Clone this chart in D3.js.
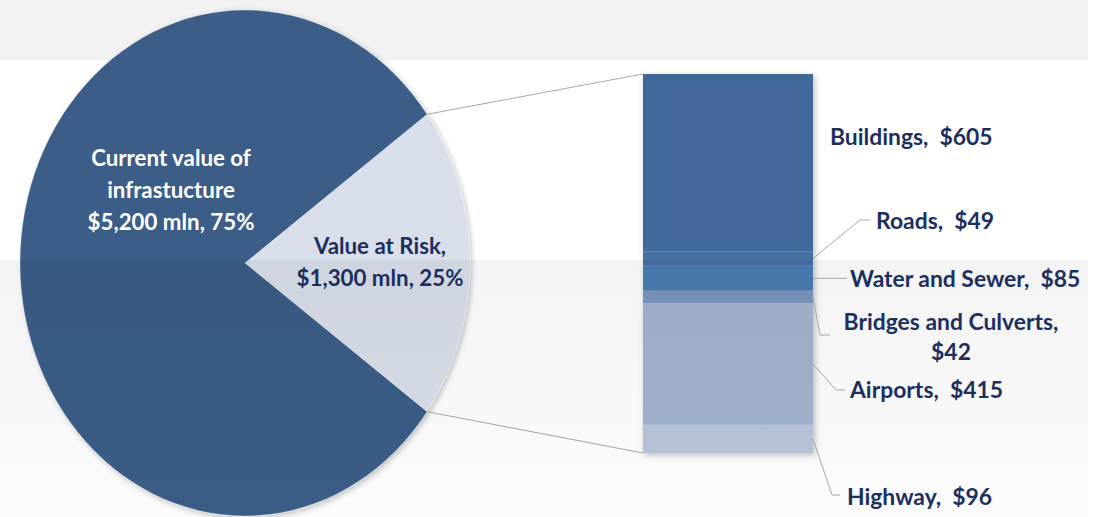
<!DOCTYPE html>
<html lang="en">

<head>
    <title>Value at Risk</title>
    <meta charset="utf-8" />
    <script src="https://d3js.org/d3.v7.min.js"></script>
    <style>
        body,
        html {
            margin: 0;
            padding: 0;
            width: 100%;
            height: 100%;
            overflow: hidden;
            background: #fff;
        }

        .lbl {
            font-family: Lato, "Open Sans", sans-serif;
            font-weight: bold;
        }
    </style>
</head>

<body>
    <div id="chart"></div>
    <script>
        // pie data
        const pieNames = ["Value at Risk", "Current value of infrastucture"];
        const pieValues = [1300, 5200];
        const pieLabelLines = [
            ["Value at Risk,", "$1,300 mln, 25%"],
            ["Current value of", "infrastucture", "$5,200 mln, 75%"]
        ];

        // breakdown of value at risk
        const riskCategories = ["Buildings", "Roads", "Water and Sewer", "Bridges and Culverts", "Airports", "Highway"];
        const riskValues = [605, 49, 85, 42, 415, 96];

        const W = 1099, H = 517;

        const svg = d3.select("#chart").append("svg")
            .attr("width", W)
            .attr("height", H);

        const defs = svg.append("defs");
        const shadow = defs.append("filter").attr("id", "shadow")
            .attr("x", "-10%").attr("y", "-10%").attr("width", "120%").attr("height", "120%");
        shadow.append("feDropShadow")
            .attr("dx", 2).attr("dy", 2).attr("stdDeviation", 3)
            .attr("flood-color", "#000").attr("flood-opacity", 0.25);

        const grad = defs.append("linearGradient").attr("id", "band")
            .attr("x1", 0).attr("y1", 0).attr("x2", 0).attr("y2", 1);
        grad.append("stop").attr("offset", "0%").attr("stop-color", "#000").attr("stop-opacity", 0.045);
        grad.append("stop").attr("offset", "100%").attr("stop-color", "#000").attr("stop-opacity", 0.015);

        // background band on top
        svg.append("rect").attr("x", 0).attr("y", 0).attr("width", 1088).attr("height", 60)
            .attr("fill", "#f2f2f2");

        // ---- pie (stretched into an ellipse) ----
        const cx = 245, cy = 263, rx = 225, ry = 253;
        // the small slice sits centred on the right hand side
        const start = Math.PI / 2 - Math.PI * pieValues[0] / d3.sum(pieValues);
        const pie = d3.pie().sort(null)
            .startAngle(start)
            .endAngle(start + 2 * Math.PI);
        const arcs = pie(pieValues);
        const arc = d3.arc().innerRadius(0).outerRadius(ry);
        const pieColor = d3.scaleOrdinal().domain(pieNames).range(["#d9dfea", "#3a5d87"]);

        const pieG = svg.append("g")
            .attr("transform", `translate(${cx},${cy}) scale(${rx / ry},1)`)
            .attr("filter", "url(#shadow)");
        pieG.selectAll("path")
            .data(arcs)
            .enter().append("path")
            .attr("d", arc)
            .attr("fill", (d, i) => pieColor(pieNames[i]))
            .attr("stroke", "#fff")
            .attr("stroke-opacity", 0.5)
            .attr("stroke-width", 0.6);

        // ---- stacked bar ----
        const barX = 643, barW = 170;
        const y = d3.scaleLinear().domain([0, d3.sum(riskValues)]).range([74, 453]);
        const stacked = [];
        let acc = 0;
        riskValues.forEach((v, i) => {
            stacked.push({ name: riskCategories[i], value: v, y0: acc, y1: acc + v });
            acc += v;
        });
        const barColor = d3.scaleOrdinal().domain(riskCategories)
            .range(["#41699a", "#4470a2", "#4a7db6", "#7c95bd", "#a3b3cf", "#b8c5db"]);

        const barG = svg.append("g").attr("filter", "url(#shadow)");
        barG.selectAll("rect")
            .data(stacked)
            .enter().append("rect")
            .attr("x", barX)
            .attr("width", barW)
            .attr("y", d => y(d.y0))
            .attr("height", d => y(d.y1) - y(d.y0))
            .attr("fill", d => barColor(d.name));

        // connector lines pie -> bar
        const a0 = arcs[0].startAngle, a1 = arcs[0].endAngle;
        const edge = a => [cx + rx * Math.sin(a), cy - ry * Math.cos(a)];
        const conn = [
            [edge(a0), [barX, y(0)]],
            [edge(a1), [barX, y(d3.sum(riskValues))]]
        ];
        svg.append("g").selectAll("line")
            .data(conn)
            .enter().append("line")
            .attr("x1", d => d[0][0]).attr("y1", d => d[0][1])
            .attr("x2", d => d[1][0]).attr("y2", d => d[1][1])
            .attr("stroke", "#a6a6a6")
            .attr("stroke-width", 1);

        // lower band overlay
        svg.append("rect").attr("x", 0).attr("y", 260).attr("width", 1088).attr("height", H - 260)
            .attr("fill", "url(#band)");

        // ---- pie labels ----
        const pieLabelPos = [
            { x: 380, y: 254, color: "#1c2f5e" },
            { x: 171, y: 166, color: "#ffffff" }
        ];
        pieLabelLines.forEach((lines, i) => {
            const p = pieLabelPos[i];
            const t = svg.append("text")
                .attr("class", "lbl")
                .attr("transform", `translate(${p.x},${p.y}) scale(0.97,1)`)
                .attr("text-anchor", "middle")
                .attr("font-size", 23)
                .attr("fill", p.color);
            lines.forEach((s, k) => {
                t.append("tspan").attr("x", 0).attr("y", k * 32).text(s);
            });
        });

        // ---- bar labels with leader lines ----
        const labelLayout = [
            { x: 830, y: 145, anchor: "start", leader: null },
            { x: 876, y: 229, anchor: "start", leader: [[860, 220], [870, 220]] },
            { x: 850, y: 287, anchor: "start", leader: [[847, null]] },
            { x: 951, y: 330, anchor: "middle", leader: [[820, 335], [830, 335]] },
            { x: 850, y: 398, anchor: "start", leader: [[836, 390], [845, 390]] },
            { x: 847, y: 505, anchor: "start", leader: [[832, 495], [840, 495]] }
        ];

        const leaderLine = d3.line();
        stacked.forEach((d, i) => {
            const L = labelLayout[i];
            if (L.leader) {
                const mid = y((d.y0 + d.y1) / 2);
                const pts = [[barX + barW, mid]].concat(L.leader.map(p => [p[0], p[1] === null ? mid : p[1]]));
                svg.append("path")
                    .attr("d", leaderLine(pts))
                    .attr("fill", "none")
                    .attr("stroke", "#a6a6a6")
                    .attr("stroke-width", 1);
            }
            const lines = d.name === "Bridges and Culverts"
                ? [d.name + ",", "$" + d.value]
                : [d.name + ",  $" + d.value];
            const t = svg.append("text")
                .attr("class", "lbl")
                .attr("transform", `translate(${L.x},${L.y}) scale(1.04,1)`)
                .attr("text-anchor", L.anchor)
                .attr("font-size", 22)
                .attr("fill", "#1c2f5e")
                .style("white-space", "pre");
            lines.forEach((s, k) => {
                t.append("tspan").attr("x", 0).attr("y", k * 30).text(s);
            });
        });
    </script>
</body>

</html>
